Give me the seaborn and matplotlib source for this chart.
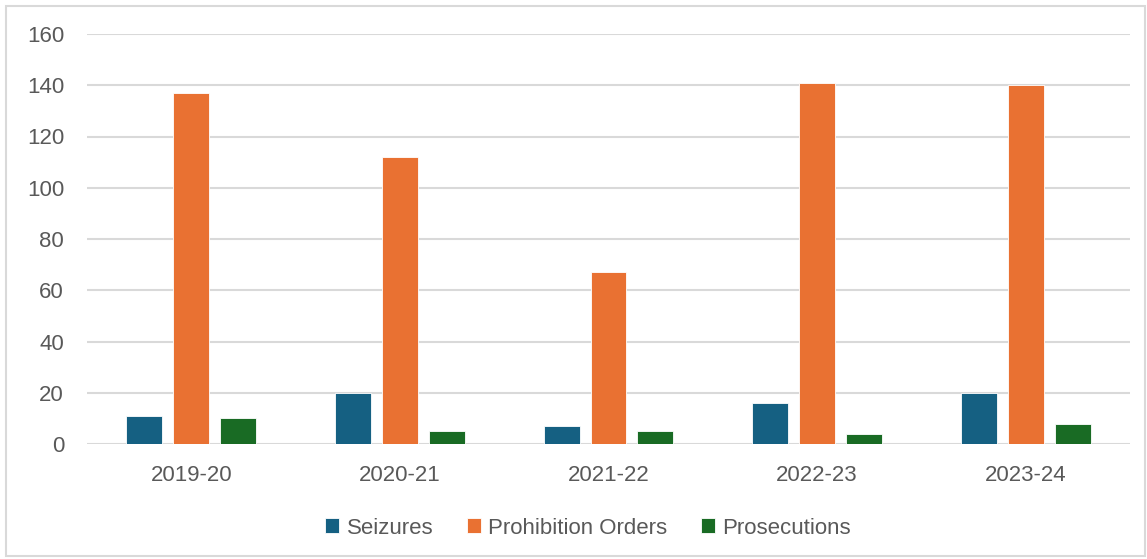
import matplotlib
matplotlib.use("Agg")
import matplotlib.pyplot as plt
import seaborn as sns
import pandas as pd
from matplotlib.patches import Rectangle

years = ["2019-20", "2020-21", "2021-22", "2022-23", "2023-24"]
seizures = [11, 20, 7, 16, 20]
prohibition_orders = [137, 112, 67, 141, 140]
prosecutions = [10, 5, 5, 4, 8]
series_names = ["Seizures", "Prohibition Orders", "Prosecutions"]
colors = ["#156082", "#E97132", "#196B24"]
y_ticks = [0, 20, 40, 60, 80, 100, 120, 140, 160]

rows = []
for name, vals in zip(series_names, [seizures, prohibition_orders, prosecutions]):
    for y, v in zip(years, vals):
        rows.append({"Year": y, "Series": name, "Value": v})
df = pd.DataFrame(rows)

sns.set_theme(style="white")
plt.rcParams["font.family"] = ["Liberation Sans", "DejaVu Sans"]

W, H = 1147, 559
fig = plt.figure(figsize=(W / 100, H / 100), dpi=100)
ax = fig.add_axes([87 / W, 1 - 444 / H, (1130 - 87) / W, (444 - 34) / H])

sns.barplot(data=df, x="Year", y="Value", hue="Series", hue_order=series_names,
            palette=colors, width=0.675, gap=0.234, ax=ax, saturation=1,
            edgecolor="white", linewidth=0.6, errorbar=None, zorder=3)

ax.set_ylim(0, 160)
ax.set_xlim(-0.5, len(years) - 0.5)
ax.set_yticks(y_ticks)
ax.set_yticklabels([str(t) for t in y_ticks])
ax.yaxis.grid(True, color="#d9d9d9", linewidth=1.5, zorder=0)
ax.set_axisbelow(True)
for s in ax.spines.values():
    s.set_visible(False)
ax.set_xlabel("")
ax.set_ylabel("")
ax.tick_params(axis="both", length=0, labelsize=16, labelcolor="#595959")
ax.tick_params(axis="y", pad=16.5)
ax.tick_params(axis="x", pad=15)

leg = ax.legend(loc="center", bbox_to_anchor=(588 / W, 1 - 528 / H),
                bbox_transform=fig.transFigure, ncol=3, frameon=False,
                fontsize=16, handlelength=0.63, handleheight=0.63,
                handletextpad=0.35, columnspacing=1.5, labelcolor="#595959")

fig.patches.append(Rectangle((6 / W, 1 - 556 / H), (1145 - 6) / W, (556 - 6) / H,
                             transform=fig.transFigure, fill=False,
                             edgecolor="#d9d9d9", linewidth=1.5))

fig.savefig("out.png", dpi=100, facecolor="white")
